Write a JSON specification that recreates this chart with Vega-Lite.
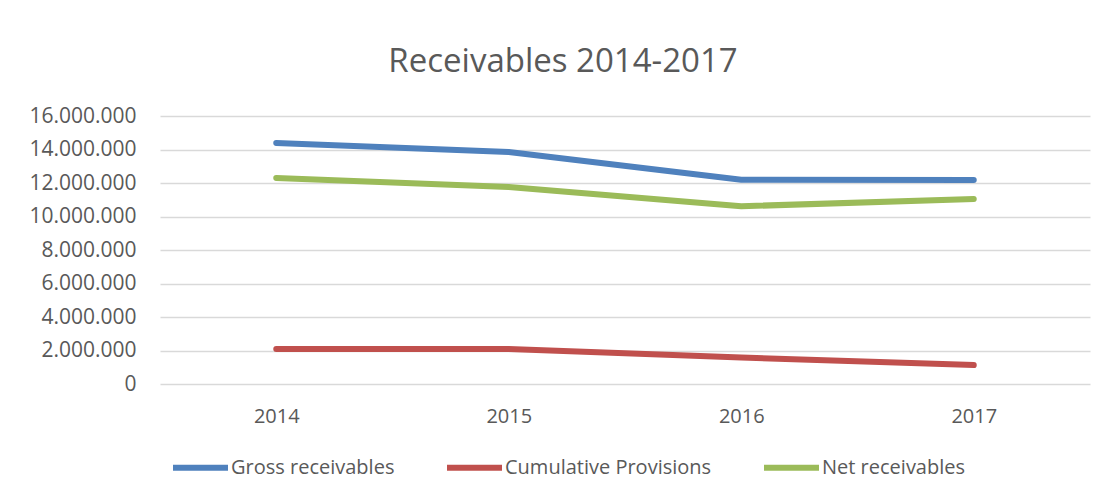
{
  "$schema": "https://vega.github.io/schema/vega-lite/v6.json",
  "width": 930,
  "height": 268,
  "autosize": {"type": "none"},
  "padding": {"left": 160, "top": 116, "right": 12, "bottom": 114},
  "background": "white",
  "title": {
    "text": "Receivables 2014-2017",
    "font": "Open Sans",
    "fontSize": 33,
    "fontWeight": "normal",
    "color": "#595959",
    "anchor": "middle",
    "dx": -62,
    "offset": 26
  },
  "data": {
    "values": [
      {"year": "2014", "series": "Gross receivables", "value": 14390000},
      {"year": "2015", "series": "Gross receivables", "value": 13850000},
      {"year": "2016", "series": "Gross receivables", "value": 12190000},
      {"year": "2017", "series": "Gross receivables", "value": 12180000},
      {"year": "2014", "series": "Cumulative Provisions", "value": 2090000},
      {"year": "2015", "series": "Cumulative Provisions", "value": 2090000},
      {"year": "2016", "series": "Cumulative Provisions", "value": 1580000},
      {"year": "2017", "series": "Cumulative Provisions", "value": 1130000},
      {"year": "2014", "series": "Net receivables", "value": 12300000},
      {"year": "2015", "series": "Net receivables", "value": 11760000},
      {"year": "2016", "series": "Net receivables", "value": 10610000},
      {"year": "2017", "series": "Net receivables", "value": 11050000}
    ]
  },
  "mark": {"type": "line", "strokeWidth": 6, "strokeCap": "round", "strokeJoin": "round"},
  "encoding": {
    "x": {
      "field": "year",
      "type": "ordinal",
      "scale": {"type": "point", "padding": 0.5},
      "axis": {
        "title": null,
        "labelAngle": 0,
        "ticks": false,
        "grid": false,
        "domain": false,
        "labelPadding": 22,
        "labelFont": "Open Sans",
        "labelFontSize": 20,
        "labelColor": "#595959"
      }
    },
    "y": {
      "field": "value",
      "type": "quantitative",
      "scale": {"domain": [0, 16000000], "nice": false},
      "axis": {
        "title": null,
        "values": [0, 2000000, 4000000, 6000000, 8000000, 10000000, 12000000, 14000000, 16000000],
        "format": ",d",
        "ticks": false,
        "domain": false,
        "grid": true,
        "gridColor": "#d9d9d9",
        "gridWidth": 1.5,
        "labelPadding": 24,
        "labelFont": "Open Sans",
        "labelFontSize": 21,
        "labelColor": "#595959"
      }
    },
    "color": {
      "field": "series",
      "type": "nominal",
      "sort": ["Gross receivables", "Cumulative Provisions", "Net receivables"],
      "scale": {
        "domain": ["Gross receivables", "Cumulative Provisions", "Net receivables"],
        "range": ["#4F81BD", "#C0504D", "#9BBB59"]
      },
      "legend": {
        "title": null,
        "orient": "none",
        "direction": "horizontal",
        "legendX": 10,
        "legendY": 321,
        "symbolType": "stroke",
        "symbolSize": 3025,
        "symbolStrokeWidth": 6,
        "labelOffset": 0,
        "columnPadding": 40,
        "labelFont": "Open Sans",
        "labelFontSize": 20,
        "labelColor": "#595959",
        "labelLimit": 400
      }
    }
  },
  "config": {
    "view": {"stroke": null},
    "locale": {
      "number": {"decimal": ",", "thousands": ".", "grouping": [3], "currency": ["", " €"]}
    }
  }
}
